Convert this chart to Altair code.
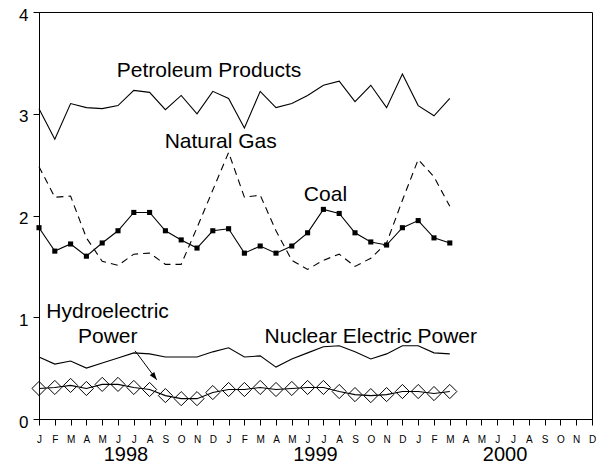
import json
import altair as alt
import pandas as pd

FONT = "Liberation Sans"

# ---- data ----
month_letters = ["J", "F", "M", "A", "M", "J", "J", "A", "S", "O", "N", "D"]
axis_months = list(range(36))          # Jan 1998 .. Dec 2000
data_months = list(range(27))          # Jan 1998 .. Mar 2000
years = ["1998", "1999", "2000"]
year_centers = [5.5, 17.5, 29.5]

petroleum = [3.05, 2.75, 3.10, 3.06, 3.05, 3.08, 3.23, 3.21, 3.04, 3.18, 3.00, 3.22,
             3.15, 2.86, 3.22, 3.06, 3.10, 3.18, 3.28, 3.32, 3.12, 3.28, 3.06, 3.39,
             3.08, 2.98, 3.15]
natural_gas = [2.48, 2.18, 2.19, 1.78, 1.55, 1.51, 1.62, 1.63, 1.52, 1.52, 1.88, 2.25,
               2.62, 2.18, 2.20, 1.85, 1.56, 1.47, 1.56, 1.62, 1.50, 1.58, 1.73, 2.15,
               2.55, 2.38, 2.09]
coal = [1.88, 1.65, 1.72, 1.60, 1.73, 1.85, 2.03, 2.03, 1.85, 1.76, 1.68, 1.85,
        1.87, 1.63, 1.70, 1.63, 1.70, 1.83, 2.06, 2.02, 1.83, 1.74, 1.71, 1.88,
        1.95, 1.78, 1.73]
nuclear = [0.61, 0.54, 0.57, 0.50, 0.55, 0.60, 0.65, 0.64, 0.61, 0.61, 0.61, 0.66,
           0.70, 0.61, 0.62, 0.51, 0.59, 0.65, 0.71, 0.72, 0.66, 0.59, 0.64, 0.72,
           0.72, 0.65, 0.64]
hydro = [0.30, 0.31, 0.33, 0.30, 0.34, 0.34, 0.31, 0.29, 0.23, 0.20, 0.20, 0.26,
         0.29, 0.29, 0.31, 0.29, 0.30, 0.31, 0.31, 0.27, 0.24, 0.23, 0.24, 0.27,
         0.27, 0.25, 0.27]

label_texts = ["Petroleum Products", "Natural Gas", "Coal", "Hydroelectric", "Power",
               "Nuclear Electric Power"]
label_x = [10.76, 11.5, 18.13, 4.34, 4.35, 21.0]
label_y = [3.364, 2.66, 2.147, 0.99, 0.745, 0.745]

arrow_start = (6.08, 0.67)
arrow_end = (7.45, 0.385)

# ---- tables ----
series = {
    "Petroleum Products": petroleum,
    "Natural Gas": natural_gas,
    "Coal": coal,
    "Nuclear Electric Power": nuclear,
    "Hydroelectric Power": hydro,
}
rows = []
for name, vals in series.items():
    for m, v in zip(data_months, vals):
        rows.append({"series": name, "month": m, "value": v})
df = pd.DataFrame(rows)

labels_df = pd.DataFrame({"text": label_texts, "month": label_x, "value": label_y})
years_df = pd.DataFrame({"text": years, "month": year_centers})
arrow_df = pd.DataFrame({"month": [arrow_start[0]], "value": [arrow_start[1]],
                         "month2": [arrow_end[0]], "value2": [arrow_end[1]]})
head_df = pd.DataFrame({"month": [arrow_end[0]], "value": [arrow_end[1]]})

label_expr = json.dumps(month_letters) + "[datum.value % 12]"

x_enc = alt.X(
    "month:Q",
    scale=alt.Scale(domain=[0, 35], nice=False, zero=False),
    axis=alt.Axis(values=axis_months, tickCount=len(axis_months), labelExpr=label_expr,
                  title=None, grid=False,
                  tickSize=6, tickColor="black", domainColor="black",
                  labelFont=FONT, labelFontSize=10, labelColor="black",
                  labelPadding=9, labelAngle=0, labelFlush=False,
                  labelOverlap=False, labelBound=False),
)
y_enc = alt.Y(
    "value:Q",
    scale=alt.Scale(domain=[0, 4], nice=False, zero=False),
    axis=alt.Axis(values=[0, 1, 2, 3, 4], tickCount=5, format="d", title=None, grid=False,
                  tickSize=6, tickColor="black", domainColor="black",
                  labelFont=FONT, labelFontSize=17, labelColor="black",
                  labelPadding=5, labelOffset=3, labelFlush=False),
)

base = alt.Chart(df)


def line(name, **kw):
    return base.transform_filter(alt.datum.series == name).mark_line(
        color="black", strokeWidth=1.1, **kw
    ).encode(x=x_enc, y=y_enc)


petro_line = line("Petroleum Products")
gas_line = line("Natural Gas", strokeDash=[7, 5])
coal_line = line("Coal")
nuc_line = line("Nuclear Electric Power")
hydro_line = line("Hydroelectric Power")

coal_pts = base.transform_filter(alt.datum.series == "Coal").mark_point(
    shape="square", filled=True, size=26, color="black", opacity=1
).encode(x="month:Q", y="value:Q")

hydro_pts = base.transform_filter(alt.datum.series == "Hydroelectric Power").mark_point(
    shape="diamond", filled=False, size=200, color="black", strokeWidth=1, opacity=1
).encode(x="month:Q", y="value:Q")

labels = alt.Chart(labels_df).mark_text(
    font=FONT, fontSize=21, color="black", align="center", baseline="alphabetic"
).encode(x="month:Q", y="value:Q", text="text:N")

year_labels = alt.Chart(years_df).mark_text(
    font=FONT, fontSize=20, color="black", align="center", baseline="alphabetic"
).encode(x="month:Q", y=alt.value(449), text="text:N")

arrow_line = alt.Chart(arrow_df).mark_rule(color="black", strokeWidth=1).encode(
    x="month:Q", y="value:Q", x2="month2:Q", y2="value2:Q"
)
arrow_head = alt.Chart(head_df).mark_point(
    shape="M0,0L-0.4,1.1L0.4,1.1Z", filled=True, size=200, color="black",
    opacity=1, angle=143
).encode(x="month:Q", y="value:Q")

chart = alt.layer(
    petro_line, gas_line, coal_line, nuc_line, hydro_line,
    coal_pts, hydro_pts, labels, year_labels, arrow_line, arrow_head
).properties(
    width=553, height=407,
    autosize=alt.AutoSizeParams(type="none"),
    padding={"left": 31, "top": 4, "right": 6, "bottom": 47},
).configure_view(
    stroke="black", strokeWidth=1
).configure_axis(
    domainWidth=1, tickWidth=1
)

chart.save("out.html", embed_options={"renderer": "svg", "actions": False})
